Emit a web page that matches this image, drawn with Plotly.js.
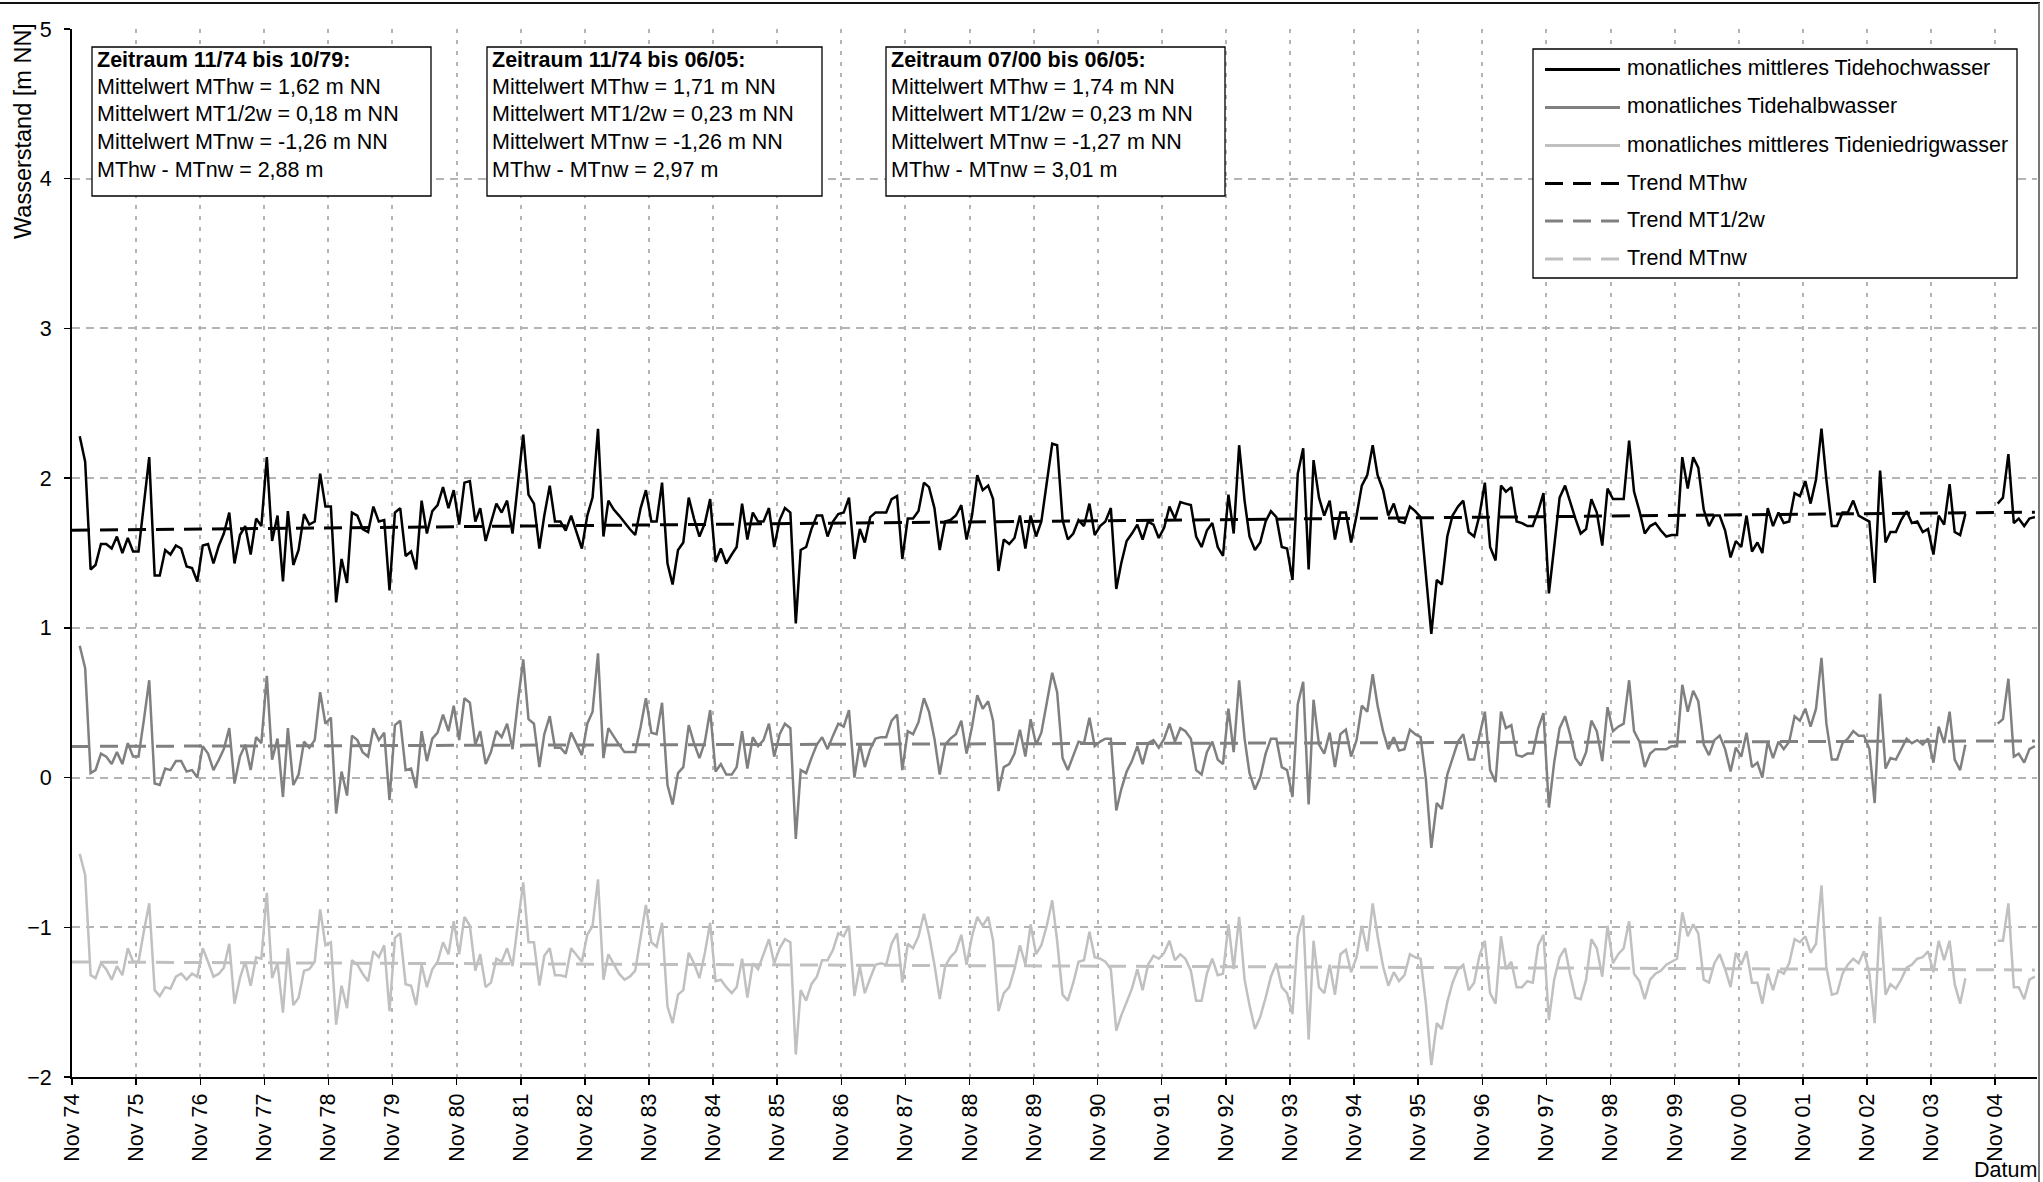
<!DOCTYPE html>
<html>
<head>
<meta charset="utf-8">
<script src="https://cdn.plot.ly/plotly-3.0.1.min.js"></script>
<style>html,body{margin:0;padding:0;background:#fff;}#chart{width:2043px;height:1182px;}</style>
</head>
<body>
<div id="chart"></div>
<script>
// ---------- DATA ----------
// monthly series, first value Dec 74 (mid-month), last Jun 05; null = missing
const mthw = [
2.28,2.11,1.39,1.42,1.56,1.56,1.53,1.61,1.50,1.60,1.51,1.51,
1.82,2.14,1.35,1.35,1.52,1.49,1.55,1.53,1.41,1.40,1.31,1.55,
1.56,1.43,1.55,1.63,1.77,1.43,1.62,1.68,1.49,1.73,1.68,2.14,
1.58,1.75,1.31,1.78,1.42,1.52,1.76,1.69,1.71,2.03,1.81,1.81,
1.17,1.46,1.30,1.77,1.75,1.66,1.64,1.81,1.71,1.72,1.25,1.77,
1.80,1.48,1.51,1.39,1.85,1.63,1.78,1.82,1.94,1.80,1.92,1.69,1.97,
1.98,1.71,1.80,1.58,1.71,1.83,1.77,1.85,1.63,1.95,2.29,1.89,
1.83,1.53,1.75,1.95,1.71,1.71,1.65,1.75,1.63,1.53,1.75,1.87,
2.33,1.61,1.85,1.79,1.75,1.70,1.66,1.62,1.80,1.92,1.71,1.71,1.97,
1.43,1.29,1.52,1.57,1.87,1.73,1.61,1.70,1.86,1.44,1.53,1.43,
1.49,1.54,1.83,1.59,1.77,1.71,1.71,1.80,1.54,1.72,1.80,1.77,
1.03,1.52,1.54,1.66,1.75,1.75,1.61,1.71,1.76,1.77,1.87,1.46,1.66,
1.57,1.74,1.77,1.77,1.77,1.86,1.88,1.46,1.73,1.73,1.78,1.97,
1.94,1.80,1.52,1.71,1.72,1.75,1.82,1.59,1.75,2.02,1.92,1.95,
1.86,1.38,1.59,1.56,1.60,1.75,1.53,1.75,1.61,1.71,1.98,2.23,2.22,
1.72,1.59,1.63,1.72,1.68,1.83,1.62,1.68,1.71,1.80,1.26,1.43,
1.58,1.63,1.69,1.59,1.71,1.69,1.60,1.67,1.81,1.73,1.84,1.83,
1.82,1.61,1.54,1.65,1.70,1.54,1.48,1.89,1.63,2.22,1.85,1.61,1.52,1.57,
1.71,1.78,1.74,1.54,1.53,1.32,2.03,2.20,1.39,2.12,1.87,1.75,
1.85,1.59,1.77,1.77,1.57,1.75,1.95,2.02,2.22,2.02,1.92,1.75,
1.83,1.71,1.70,1.81,1.78,1.74,1.33,0.96,1.32,1.29,1.61,1.75,1.81,
1.85,1.64,1.61,1.75,1.97,1.54,1.45,1.95,1.91,1.94,1.71,1.70,
1.68,1.68,1.78,1.90,1.23,1.54,1.87,1.95,1.84,1.73,1.63,1.66,
1.86,1.77,1.55,1.93,1.86,1.86,1.86,2.25,1.91,1.78,1.63,1.68,1.70,
1.65,1.61,1.62,1.62,2.14,1.93,2.14,2.07,1.79,1.68,1.75,1.75,
1.65,1.47,1.58,1.54,1.75,1.51,1.57,1.50,1.80,1.68,1.77,1.70,
1.71,1.90,1.88,1.98,1.83,1.99,2.33,1.99,1.68,1.68,1.77,1.77,1.85,
1.75,1.73,1.71,1.30,2.05,1.57,1.64,1.64,1.72,1.78,1.70,1.71,
1.64,1.66,1.49,1.75,1.69,1.96,1.64,1.62,1.76,
null,null,null,null,null,
1.83,1.87,2.16,1.70,1.73,1.68,1.73,1.74];

const mthalbw = [
0.88,0.73,0.03,0.05,0.16,0.14,0.09,0.17,0.09,0.23,0.14,0.14,
0.38,0.65,-0.04,-0.05,0.06,0.05,0.11,0.11,0.04,0.05,0.00,0.21,
0.16,0.05,0.12,0.19,0.33,-0.04,0.14,0.22,0.05,0.27,0.23,0.68,
0.12,0.26,-0.13,0.33,-0.05,0.02,0.24,0.20,0.25,0.57,0.36,0.40,
-0.24,0.04,-0.12,0.28,0.25,0.17,0.14,0.33,0.25,0.30,-0.15,0.35,
0.38,0.05,0.06,-0.07,0.31,0.11,0.26,0.30,0.42,0.31,0.48,0.25,0.53,
0.50,0.22,0.31,0.09,0.17,0.31,0.27,0.36,0.19,0.50,0.79,0.39,
0.36,0.07,0.29,0.41,0.20,0.20,0.16,0.30,0.22,0.15,0.36,0.44,
0.83,0.13,0.33,0.27,0.22,0.17,0.17,0.17,0.34,0.53,0.30,0.29,0.50,
-0.05,-0.18,0.03,0.07,0.35,0.23,0.13,0.24,0.45,0.04,0.09,0.02,
0.02,0.07,0.31,0.06,0.27,0.21,0.25,0.36,0.14,0.29,0.36,0.33,
-0.41,0.05,0.03,0.13,0.22,0.27,0.19,0.28,0.36,0.34,0.45,0.00,0.23,
0.07,0.19,0.26,0.27,0.27,0.38,0.42,0.05,0.31,0.29,0.37,0.53,
0.44,0.26,0.02,0.22,0.26,0.29,0.38,0.16,0.34,0.55,0.46,0.51,
0.38,-0.09,0.07,0.09,0.16,0.32,0.14,0.39,0.22,0.30,0.50,0.70,0.57,
0.13,0.05,0.14,0.24,0.23,0.40,0.21,0.24,0.26,0.26,-0.22,-0.08,
0.04,0.11,0.21,0.09,0.23,0.25,0.20,0.26,0.36,0.24,0.33,0.31,
0.26,0.05,0.02,0.17,0.24,0.12,0.09,0.46,0.17,0.65,0.26,0.03,-0.08,0.00,
0.16,0.26,0.26,0.07,0.05,-0.13,0.49,0.64,-0.18,0.52,0.22,0.16,
0.30,0.07,0.29,0.32,0.14,0.25,0.48,0.44,0.69,0.48,0.31,0.19,
0.27,0.18,0.19,0.32,0.29,0.27,-0.01,-0.47,-0.17,-0.21,0.02,0.13,0.24,
0.29,0.12,0.12,0.27,0.44,0.05,-0.03,0.44,0.33,0.35,0.15,0.14,
0.16,0.16,0.33,0.43,-0.20,0.10,0.33,0.41,0.29,0.13,0.08,0.17,
0.38,0.31,0.11,0.47,0.31,0.34,0.36,0.65,0.31,0.24,0.07,0.16,0.19,
0.19,0.19,0.21,0.21,0.62,0.44,0.58,0.51,0.22,0.15,0.25,0.28,
0.19,0.04,0.20,0.14,0.30,0.07,0.10,0.00,0.24,0.13,0.24,0.19,
0.24,0.41,0.38,0.46,0.34,0.46,0.80,0.36,0.12,0.12,0.23,0.26,0.31,
0.28,0.28,0.19,-0.17,0.56,0.06,0.13,0.12,0.19,0.26,0.23,0.25,
0.22,0.26,0.10,0.34,0.23,0.44,0.12,0.05,0.22,
null,null,null,null,null,
0.36,0.39,0.66,0.14,0.16,0.10,0.19,0.21];

const mtnw = [
-0.51,-0.65,-1.32,-1.34,-1.24,-1.28,-1.35,-1.26,-1.32,-1.14,-1.23,-1.23,
-1.03,-0.84,-1.42,-1.46,-1.40,-1.41,-1.33,-1.31,-1.35,-1.31,-1.33,-1.14,
-1.23,-1.33,-1.31,-1.27,-1.11,-1.51,-1.34,-1.23,-1.39,-1.20,-1.21,-0.77,
-1.34,-1.24,-1.57,-1.14,-1.52,-1.47,-1.29,-1.28,-1.23,-0.88,-1.12,-1.10,
-1.65,-1.39,-1.54,-1.22,-1.25,-1.31,-1.36,-1.16,-1.20,-1.12,-1.56,-1.07,
-1.04,-1.38,-1.39,-1.52,-1.25,-1.40,-1.28,-1.23,-1.10,-1.18,-0.96,-1.18,-0.93,
-0.99,-1.29,-1.18,-1.40,-1.37,-1.21,-1.23,-1.14,-1.26,-0.98,-0.70,-1.10,
-1.10,-1.39,-1.19,-1.14,-1.32,-1.32,-1.33,-1.14,-1.19,-1.23,-1.05,-0.99,
-0.68,-1.35,-1.18,-1.25,-1.31,-1.35,-1.33,-1.29,-1.08,-0.85,-1.10,-1.13,-0.97,
-1.53,-1.64,-1.45,-1.42,-1.17,-1.24,-1.34,-1.17,-0.97,-1.36,-1.35,-1.40,
-1.44,-1.40,-1.21,-1.47,-1.24,-1.28,-1.18,-1.08,-1.24,-1.14,-1.08,-1.10,
-1.85,-1.42,-1.49,-1.38,-1.33,-1.22,-1.22,-1.15,-1.04,-1.06,-0.99,-1.46,-1.26,
-1.44,-1.34,-1.25,-1.24,-1.25,-1.11,-1.04,-1.37,-1.11,-1.14,-1.06,-0.91,
-1.05,-1.25,-1.48,-1.26,-1.20,-1.16,-1.05,-1.25,-1.06,-0.93,-0.99,-0.93,
-1.09,-1.56,-1.44,-1.40,-1.28,-1.12,-1.25,-0.98,-1.18,-1.12,-0.99,-0.82,-1.09,
-1.45,-1.49,-1.37,-1.23,-1.22,-1.03,-1.20,-1.21,-1.23,-1.28,-1.69,-1.59,
-1.50,-1.41,-1.28,-1.42,-1.25,-1.19,-1.21,-1.17,-1.09,-1.22,-1.18,-1.21,
-1.29,-1.49,-1.49,-1.31,-1.21,-1.32,-1.31,-0.98,-1.28,-0.93,-1.35,-1.52,-1.68,-1.60,
-1.47,-1.33,-1.24,-1.40,-1.44,-1.58,-1.06,-0.92,-1.75,-1.09,-1.40,-1.44,
-1.25,-1.45,-1.18,-1.15,-1.30,-1.20,-0.99,-1.16,-0.84,-1.06,-1.26,-1.39,
-1.30,-1.36,-1.32,-1.18,-1.20,-1.21,-1.51,-1.92,-1.64,-1.68,-1.50,-1.37,-1.28,
-1.25,-1.42,-1.37,-1.19,-1.09,-1.44,-1.51,-1.06,-1.28,-1.23,-1.40,-1.40,
-1.36,-1.37,-1.12,-1.05,-1.62,-1.35,-1.20,-1.14,-1.31,-1.47,-1.48,-1.35,
-1.08,-1.14,-1.33,-0.99,-1.24,-1.18,-1.14,-0.96,-1.31,-1.36,-1.48,-1.35,-1.31,
-1.29,-1.25,-1.23,-1.21,-0.90,-1.06,-0.98,-1.04,-1.35,-1.37,-1.24,-1.18,
-1.28,-1.40,-1.17,-1.25,-1.16,-1.37,-1.37,-1.51,-1.31,-1.42,-1.29,-1.31,
-1.24,-1.08,-1.10,-1.06,-1.17,-1.11,-0.72,-1.27,-1.45,-1.44,-1.31,-1.25,-1.21,
-1.24,-1.16,-1.31,-1.64,-0.93,-1.45,-1.38,-1.41,-1.35,-1.27,-1.25,-1.21,
-1.20,-1.16,-1.30,-1.09,-1.22,-1.09,-1.38,-1.51,-1.34,
null,null,null,null,null,
-1.09,-1.09,-0.84,-1.40,-1.40,-1.48,-1.35,-1.33];

// linear trends: [start, end]
const trendX  = ['1974-11-01', '2005-06-15'];
const trendHw = [1.652, 1.773];
const trendHalbw = [0.208, 0.245];
const trendNw = [-1.232, -1.285];

const tickLabels = ['Nov 74','Nov 75','Nov 76','Nov 77','Nov 78','Nov 79','Nov 80','Nov 81','Nov 82','Nov 83',
  'Nov 84','Nov 85','Nov 86','Nov 87','Nov 88','Nov 89','Nov 90','Nov 91','Nov 92','Nov 93',
  'Nov 94','Nov 95','Nov 96','Nov 97','Nov 98','Nov 99','Nov 00','Nov 01','Nov 02','Nov 03','Nov 04'];

const legendLabels = ['monatliches mittleres Tidehochwasser','monatliches Tidehalbwasser',
  'monatliches mittleres Tideniedrigwasser','Trend MThw','Trend MT1/2w','Trend MTnw'];

const boxTexts = [
  ['Zeitraum 11/74 bis 10/79:','Mittelwert MThw = 1,62 m NN','Mittelwert MT1/2w = 0,18 m NN','Mittelwert MTnw = -1,26 m NN','MThw - MTnw = 2,88 m'],
  ['Zeitraum 11/74 bis 06/05:','Mittelwert MThw = 1,71 m NN','Mittelwert MT1/2w = 0,23 m NN','Mittelwert MTnw = -1,26 m NN','MThw - MTnw = 2,97 m'],
  ['Zeitraum 07/00 bis 06/05:','Mittelwert MThw = 1,74 m NN','Mittelwert MT1/2w = 0,23 m NN','Mittelwert MTnw = -1,27 m NN','MThw - MTnw = 3,01 m']
];

// ---------- month axis ----------
const months = [];
for (let i = 0; i < mthw.length; i++) {
  const m = (11 + i) % 12 + 1;
  const y = 1974 + Math.floor((11 + i) / 12);
  months.push(y + '-' + String(m).padStart(2, '0') + '-15');
}
const tickVals = tickLabels.map((t, i) => (1974 + i) + '-11-01');

// ---------- styling ----------
const FONT = 'Liberation Sans, Arial, Helvetica, sans-serif';
const FS = 21.5;
const C_HW = '#000000', C_HALB = '#808080', C_NW = '#c0c0c0';
const colors = [C_HW, C_HALB, C_NW, C_HW, C_HALB, C_NW];

const W = 2043, H = 1182;
const M = {l: 72, r: 6, t: 29, b: 105};
const PW = W - M.l - M.r, PH = H - M.t - M.b;
const px = X => (X - M.l) / PW;
const py = Y => (H - M.b - Y) / PH;

const traces = [
  {x: months, y: mthw, type: 'scatter', mode: 'lines', line: {color: C_HW, width: 2.5}, connectgaps: false, name: legendLabels[0], showlegend: false},
  {x: months, y: mthalbw, type: 'scatter', mode: 'lines', line: {color: C_HALB, width: 2.5}, connectgaps: false, name: legendLabels[1], showlegend: false},
  {x: months, y: mtnw, type: 'scatter', mode: 'lines', line: {color: C_NW, width: 2.5}, connectgaps: false, name: legendLabels[2], showlegend: false},
  {x: trendX, y: trendHw, type: 'scatter', mode: 'lines', line: {color: C_HW, width: 3, dash: '18px,10px'}, name: legendLabels[3], showlegend: false},
  {x: trendX, y: trendHalbw, type: 'scatter', mode: 'lines', line: {color: C_HALB, width: 3, dash: '18px,10px'}, name: legendLabels[4], showlegend: false},
  {x: trendX, y: trendNw, type: 'scatter', mode: 'lines', line: {color: C_NW, width: 3, dash: '18px,10px'}, name: legendLabels[5], showlegend: false}
];

const shapes = [];
const annotations = [];

// text boxes
const boxes = [[92, 431], [487, 822], [886, 1225]];
const lineY = [59.5, 87, 114.5, 142, 169.5];
boxes.forEach((b, i) => {
  shapes.push({type: 'rect', xref: 'paper', yref: 'paper', x0: px(b[0]), x1: px(b[1]), y0: py(47), y1: py(196),
    line: {color: '#000', width: 1.3}, fillcolor: '#fff', layer: 'above'});
  boxTexts[i].forEach((t, j) => {
    annotations.push({xref: 'paper', yref: 'paper', x: px(b[0] + 3), y: py(lineY[j]), xanchor: 'left', yanchor: 'middle',
      align: 'left', showarrow: false, font: {family: FONT, size: FS, color: '#000'},
      text: j === 0 ? '<b>' + t + '</b>' : t});
  });
});

// legend box
shapes.push({type: 'rect', xref: 'paper', yref: 'paper', x0: px(1533), x1: px(2017), y0: py(49), y1: py(278),
  line: {color: '#000', width: 1.3}, fillcolor: '#fff', layer: 'above'});
const rowY = [68.5, 106.5, 144.5, 182.5, 220, 258];
legendLabels.forEach((lab, i) => {
  shapes.push({type: 'line', xref: 'paper', yref: 'paper', x0: px(1545), x1: px(1620), y0: py(rowY[i] + 1), y1: py(rowY[i] + 1),
    line: {color: colors[i], width: 3, dash: i >= 3 ? '18px,10px' : 'solid'}, layer: 'above'});
  annotations.push({xref: 'paper', yref: 'paper', x: px(1625), y: py(rowY[i]), xanchor: 'left', yanchor: 'middle',
    showarrow: false, font: {family: FONT, size: FS, color: '#000'}, text: lab});
});

// chart frame (top and right)
shapes.push({type: 'line', xref: 'paper', yref: 'paper', x0: px(0), x1: px(2040), y0: py(3), y1: py(3), line: {color: '#111', width: 2}});
shapes.push({type: 'line', xref: 'paper', yref: 'paper', x0: px(2039), x1: px(2039), y0: py(3), y1: py(1182), line: {color: '#777', width: 2}});

// axis titles
annotations.push({xref: 'paper', yref: 'paper', x: px(23), y: py(131), xanchor: 'center', yanchor: 'middle', textangle: -90,
  showarrow: false, font: {family: FONT, size: 23.5, color: '#000'}, text: 'Wasserstand [m NN]'});
annotations.push({xref: 'paper', yref: 'paper', x: px(2039), y: py(1170), xanchor: 'right', yanchor: 'middle',
  showarrow: false, font: {family: FONT, size: FS, color: '#000'}, text: 'Datum'});

const layout = {
  width: W, height: H,
  margin: {l: M.l, r: M.r, t: M.t, b: M.b, pad: 0},
  paper_bgcolor: '#fff', plot_bgcolor: '#fff',
  showlegend: false,
  font: {family: FONT, size: FS, color: '#000'},
  xaxis: {
    type: 'date', range: ['1974-11-01', '2005-06-27'],
    tickmode: 'array', tickvals: tickVals, ticktext: tickLabels, tickangle: -90,
    tickfont: {family: FONT, size: FS, color: '#000'},
    showgrid: true, gridcolor: '#b4b4b4', gridwidth: 2, griddash: '4px,7px',
    showline: true, linecolor: '#000', linewidth: 2,
    ticks: 'outside', ticklen: 6, tickwidth: 1.5, tickcolor: '#000',
    zeroline: false, fixedrange: true
  },
  yaxis: {
    range: [-2, 5], tickmode: 'linear', tick0: 0, dtick: 1,
    tickfont: {family: FONT, size: FS, color: '#000'},
    showgrid: true, gridcolor: '#b4b4b4', gridwidth: 2, griddash: '8px,6px',
    showline: true, linecolor: '#000', linewidth: 2,
    ticks: 'outside', ticklen: 6, tickwidth: 1.5, tickcolor: '#000',
    ticklabelstandoff: 8,
    zeroline: false, fixedrange: true
  },
  shapes: shapes,
  annotations: annotations
};

Plotly.newPlot('chart', traces, layout, {staticPlot: true, displayModeBar: false});
</script>
</body>
</html>
